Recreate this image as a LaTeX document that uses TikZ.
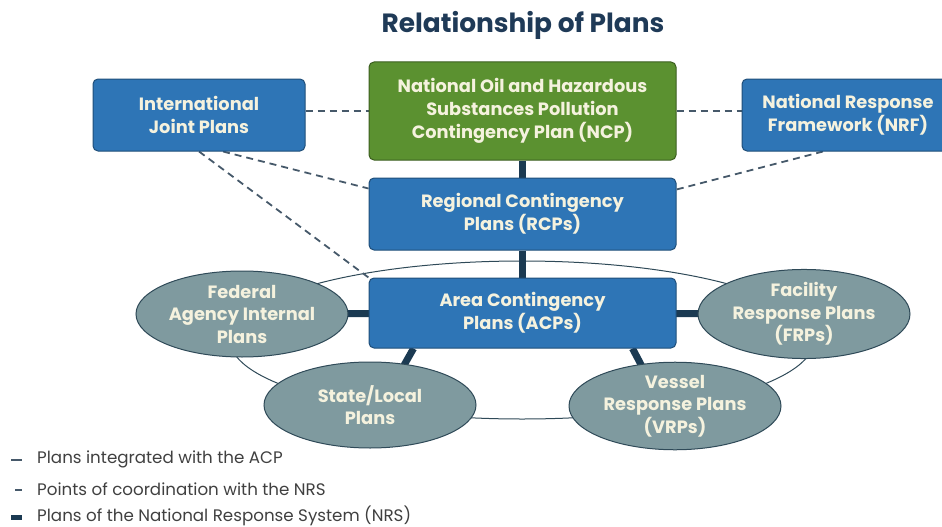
\documentclass[tikz,border=0pt]{standalone}
\usepackage{fontspec}
\setmainfont{Poppins}
\usetikzlibrary{shapes.geometric,backgrounds}
\definecolor{boxblue}{HTML}{2E75B6}
\definecolor{boxedge}{HTML}{1F4E79}
\definecolor{ncpgreen}{HTML}{5B9130}
\definecolor{ncpedge}{HTML}{3B5E1F}
\definecolor{ellfill}{HTML}{7F9A9F}
\definecolor{elledge}{HTML}{2F4A58}
\definecolor{cream}{HTML}{F5F2DE}
\definecolor{navy}{HTML}{1B3A52}
\definecolor{dashcol}{HTML}{46596A}
\definecolor{titlecol}{HTML}{1F3A57}
\definecolor{legtext}{HTML}{404040}
\tikzset{
  planbox/.style={rectangle, rounded corners=5pt, draw=boxedge, line width=1pt, fill=boxblue,
    text=cream, font=\fontsize{17.8}{23}\selectfont\bfseries, align=center, inner sep=0pt},
  planell/.style={ellipse, draw=elledge, line width=1pt, fill=ellfill, text=cream,
    font=\fontsize{17.8}{22.5}\selectfont\bfseries, align=center, inner sep=0pt,
    minimum width=212pt, minimum height=86pt},
  nrslink/.style={draw=navy, line width=7pt},
  coord/.style={draw=dashcol, line width=1.8pt, dash pattern=on 7pt off 5pt},
  legend/.style={anchor=west, text=legtext, font=\fontsize{16.7}{19}\selectfont, inner sep=0pt}
}
\begin{document}
\begin{tikzpicture}[x=1pt,y=-1pt]
\useasboundingbox (0,0) rectangle (942,527);
\clip (0,0) rectangle (942,527);
\node[text=titlecol, font=\fontsize{26.4}{30}\selectfont\bfseries] (title) at (523,25) {Relationship of Plans};

\node[planbox, fill=ncpgreen, draw=ncpedge, minimum width=307pt, minimum height=98pt] (ncp) at (522.5,111)
  {National Oil and Hazardous\\Substances Pollution\\Contingency Plan (NCP)};
\node[planbox, minimum width=212pt, minimum height=72pt] (ijp) at (199,115) {International\\Joint Plans};
\node[planbox, minimum width=212pt, minimum height=72pt] (nrf) at (848,115) {National Response\\Framework (NRF)};
\node[planbox, minimum width=307pt, minimum height=72pt] (rcp) at (522.5,214) {Regional Contingency\\Plans (RCPs)};
\node[planbox, minimum width=307pt, minimum height=70pt] (acp) at (522.5,313) {Area Contingency\\Plans (ACPs)};

\node[planell] (fed) at (242,314) {Federal\\Agency Internal\\Plans};
\node[planell] (state) at (370,405) {State/Local\\Plans};
\node[planell] (frp) at (804,314) {Facility\\Response Plans\\(FRPs)};
\node[planell] (vrp) at (675,406) {Vessel\\Response Plans\\(VRPs)};

\begin{scope}[on background layer]
  \coordinate (ringc) at (522,340);
  \draw[draw=elledge, line width=1pt] (ringc) ellipse [x radius=292pt, y radius=79pt];
  \draw[nrslink] (ncp.south) -- (rcp.north);
  \draw[nrslink] (rcp.south) -- (acp.north);
  \draw[nrslink] (fed.center) -- (acp.center);
  \draw[nrslink] (acp.center) -- (frp.center);
  \draw[nrslink] ([xshift=-109pt]acp.south) -- ([xshift=20pt,yshift=15pt]state.center);
  \draw[nrslink] ([xshift=110pt]acp.south) -- ([xshift=-20pt,yshift=15pt]vrp.center);
  \draw[coord] (ijp.east |- ncp.west) -- (ncp.west);
  \draw[coord] (ncp.east) -- (nrf.west |- ncp.east);
  \draw[coord] (ijp.south) -- (acp.north west);
  \draw[coord] ([xshift=24pt]ijp.south) -- ([yshift=-11pt]rcp.north west);
  \draw[coord] ([xshift=-25pt]nrf.south) -- ([yshift=-12pt]rcp.north east);
\end{scope}

% legend
\coordinate (l1a) at (11,460); \coordinate (l1b) at (22,460);
\draw[draw=dashcol, line width=2.2pt] (l1a) -- (l1b);
\node[legend] (leg1) at (37,459) {Plans integrated with the ACP};
\coordinate (l2a) at (15,490); \coordinate (l2b) at (22,490);
\draw[draw=dashcol, line width=2.2pt] (l2a) -- (l2b);
\node[legend] (leg2) at (37,489) {Points of coordination with the NRS};
\coordinate (l3a) at (11,515); \coordinate (l3b) at (22,520);
\fill[navy] (l3a) rectangle (l3b);
\node[legend] (leg3) at (37,515.5) {Plans of the National Response System (NRS)};
\end{tikzpicture}
\end{document}
